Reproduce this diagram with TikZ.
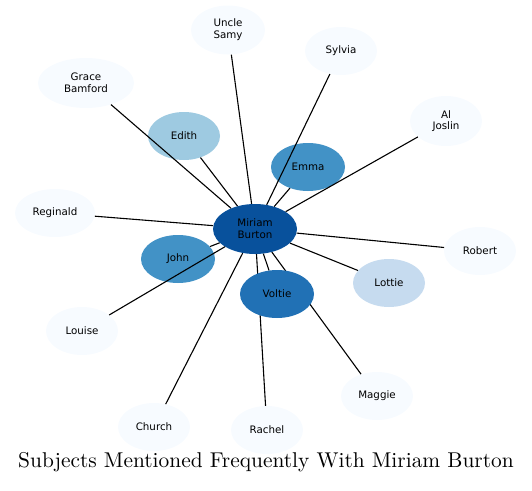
\documentclass[tikz,border=0pt]{standalone}
\usepackage{fontspec}
\newfontfamily\nodefont{DejaVu Sans}
\newfontfamily\titlefont{lmroman10-regular}[Extension=.otf]
\usetikzlibrary{shapes.geometric,backgrounds}
\definecolor{c0}{HTML}{F7FBFF}
\definecolor{c1}{HTML}{C6DBEF}
\definecolor{c2}{HTML}{9ECAE1}
\definecolor{c3}{HTML}{4292C6}
\definecolor{c4}{HTML}{2171B5}
\definecolor{c5}{HTML}{08519C}
\tikzset{
  person/.style={ellipse, draw=none, inner sep=0pt, minimum width=72pt, minimum height=48pt,
    align=center, font=\nodefont\fontsize{10.3}{11.7}\selectfont, text=black},
  link/.style={draw=black, line width=1.1pt}
}
\begin{document}
\begin{tikzpicture}[x=1pt,y=-1pt]
\useasboundingbox (0,0) rectangle (532,490);
\node[person, fill=c0, minimum width=74pt, minimum height=49pt] (samy) at (228,30) {Uncle\\Samy};
\node[person, fill=c0] (sylvia) at (341,51) {Sylvia};
\node[person, fill=c0, minimum width=96pt, minimum height=50pt] (grace) at (86,83) {Grace\\Bamford};
\node[person, fill=c2] (edith) at (184,136) {Edith};
\node[person, fill=c0, minimum height=50pt] (al) at (446,121) {Al\\Joslin};
\node[person, fill=c3, minimum width=74pt] (emma) at (308,167) {Emma};
\node[person, fill=c0, minimum width=80pt] (reginald) at (55,213) {Reginald};
\node[person, fill=c5, minimum width=84pt, minimum height=50pt] (miriam) at (255,229) {Miriam\\Burton};
\node[person, fill=c3, minimum width=74pt] (john) at (178,259) {John};
\node[person, fill=c0] (robert) at (480,251) {Robert};
\node[person, fill=c1] (lottie) at (389,283) {Lottie};
\node[person, fill=c4, minimum width=74pt] (voltie) at (277,294) {Voltie};
\node[person, fill=c0] (louise) at (82,331) {Louise};
\node[person, fill=c0] (maggie) at (377,396) {Maggie};
\node[person, fill=c0] (church) at (154,427) {Church};
\node[person, fill=c0] (rachel) at (267,430) {Rachel};
\begin{pgfonlayer}{background}
\draw[link] (miriam) -- (rachel);
\draw[link] (miriam) -- (maggie);
\end{pgfonlayer}
\draw[link] (miriam) -- (samy);
\draw[link] (miriam) -- (sylvia);
\draw[link] (miriam) -- (grace);
\draw[link] (miriam) -- (edith);
\draw[link] (miriam) -- (al);
\draw[link] (miriam) -- (emma);
\draw[link] (miriam) -- (reginald);
\draw[link] (miriam) -- (john);
\draw[link] (miriam) -- (robert);
\draw[link] (miriam) -- (lottie);
\draw[link] (miriam) -- (voltie);
\draw[link] (miriam) -- (louise);
\draw[link] (miriam) -- (church);
\node[anchor=base, inner sep=0pt, font=\titlefont\fontsize{21.4}{24}\selectfont] (title) at (266,467) {Subjects Mentioned Frequently With Miriam Burton};
\end{tikzpicture}
\end{document}
